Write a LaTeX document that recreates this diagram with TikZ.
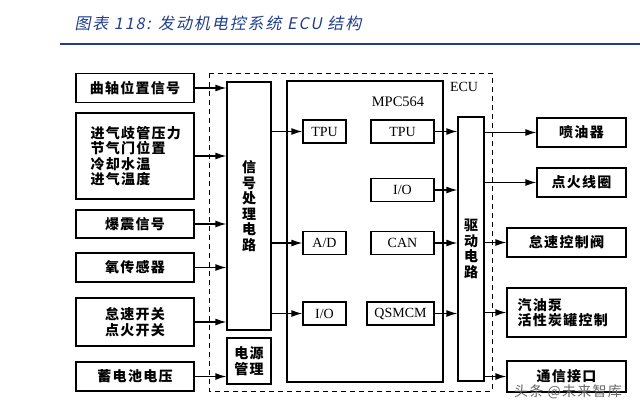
\documentclass[tikz,border=0pt]{standalone}
\usepackage{fontspec}
\setmainfont{Liberation Serif}
\newfontfamily\cjk[LetterSpace=9]{Noto Sans CJK SC}
\newfontfamily\titlefont[FakeSlant=0.2,LetterSpace=12]{Noto Sans CJK SC}
\usepackage{tikz}
\usetikzlibrary{arrows.meta, positioning}
\definecolor{titleblue}{RGB}{32,62,140}

\tikzset{
  box/.style={draw, line width=1.3pt, inner sep=0pt, minimum width=118pt, minimum height=29pt,
    font=\cjk\bfseries\fontsize{14}{15.5}\selectfont, align=center},
  chip/.style={draw, line width=1.3pt, inner sep=0pt, minimum height=23pt,
    font=\fontsize{14}{15}\selectfont},
  arr/.style={line width=1.3pt, -{Latex[length=11pt,width=7pt]}},
}

\begin{document}
\begin{tikzpicture}[x=1pt, y=-1pt]
  \useasboundingbox (0,0) rectangle (640,410);

  % 标题
  \node[anchor=west, text=titleblue, font=\titlefont\fontsize{16}{18}\selectfont] (title) at (71,23) {图表 118: 发动机电控系统 ECU 结构};
  \draw[titleblue, line width=2pt] (60,44) -- (640,44);

  % ECU 虚线框
  \draw[line width=1pt, dash pattern=on 5pt off 4pt] (209,73) rectangle (492,391);
  \node[font=\fontsize{14}{16}\selectfont] (ecu) at (464,87) {ECU};

  % 左边:输入信号
  \node[box] (qz) at (135,88) {曲轴位置信号};
  \node[box, minimum height=86pt] (jq) at (135,156) {};
  \node[right=15pt of jq.west, anchor=west, inner sep=0pt, align=left,
    font=\cjk\bfseries\fontsize{14}{15.5}\selectfont] (jqtext) {进气歧管压力\\节气门位置\\冷却水温\\进气温度};
  \node[box, minimum height=28pt] (bz) at (135,224) {爆震信号};
  \node[box] (yc) at (135,267.5) {氧传感器};
  \node[box, minimum height=48pt] (kg) at (135,322) {怠速开关\\点火开关};
  \node[box] (xdc) at (135,376.5) {蓄电池电压};

  % 信号处理电路, 电源管理
  \node[box, minimum width=44pt, minimum height=248pt] (xh) at (249,206) {信\\号\\处\\理\\电\\路};
  \node[box, minimum width=44pt, minimum height=46pt] (dy) at (249,361) {电源\\管理};

  % MPC564
  \draw[line width=1.3pt] (287,81) rectangle (443,382);
  \node[font=\fontsize{14.5}{16}\selectfont] (mpc) at (398,102) {MPC564};
  \node[chip, minimum width=43pt] (tpua) at (324.5,131.5) {TPU};
  \node[chip, minimum width=43pt] (ad) at (324.5,243) {A/D};
  \node[chip, minimum width=43pt] (ioa) at (324.5,313.5) {I/O};
  \node[chip, minimum width=63pt] (tpub) at (402.5,131.5) {TPU};
  \node[chip, minimum width=63pt] (iob) at (402.5,190) {I/O};
  \node[chip, minimum width=63pt] (can) at (402.5,243) {CAN};
  \node[chip, minimum width=67pt] (qsm) at (400.5,313.5) {QSMCM};

  % 驱动电路
  \node[box, minimum width=26pt, minimum height=264pt] (qd) at (471,249) {驱\\动\\电\\路};

  % 右边:执行器
  \node[box, minimum width=89pt] (pyq) at (581.5,132.5) {喷油器};
  \node[box, minimum width=89pt] (dh) at (581.5,182.5) {点火线圈};
  \node[box, minimum width=119pt] (dsf) at (566.5,242.5) {怠速控制阀};
  \node[box, minimum width=119pt, minimum height=49pt] (qyb) at (566.5,312.5) {};
  \node[right=11pt of qyb.west, anchor=west, inner sep=0pt, align=left,
    font=\cjk\bfseries\fontsize{14}{15.5}\selectfont] (qybtext) {汽油泵\\活性炭罐控制};
  \node[box, minimum width=119pt, minimum height=31pt] (tx) at (566.5,376.5) {通信接口};

  % 连线
  \foreach \n in {qz, jq, bz, yc, kg}
    \draw[arr] (\n.east) -- (\n.east -| xh.west);
  \draw[arr] (xdc.east) -- (xdc.east -| dy.west);
  \foreach \n in {tpua, ad, ioa}
    \draw[arr] (xh.east |- \n.west) -- (\n.west);
  \foreach \n in {tpub, iob, can, qsm}
    \draw[arr] (\n.east) -- (\n.east -| qd.west);
  \foreach \n in {pyq, dh, dsf, qyb, tx}
    \draw[arr] (qd.east |- \n.west) -- (\n.west);

  % 水印
  \node[text=black!60, font=\cjk\fontsize{14}{16}\selectfont] (wm) at (568,392) {头条 @未来智库};
\end{tikzpicture}
\end{document}
